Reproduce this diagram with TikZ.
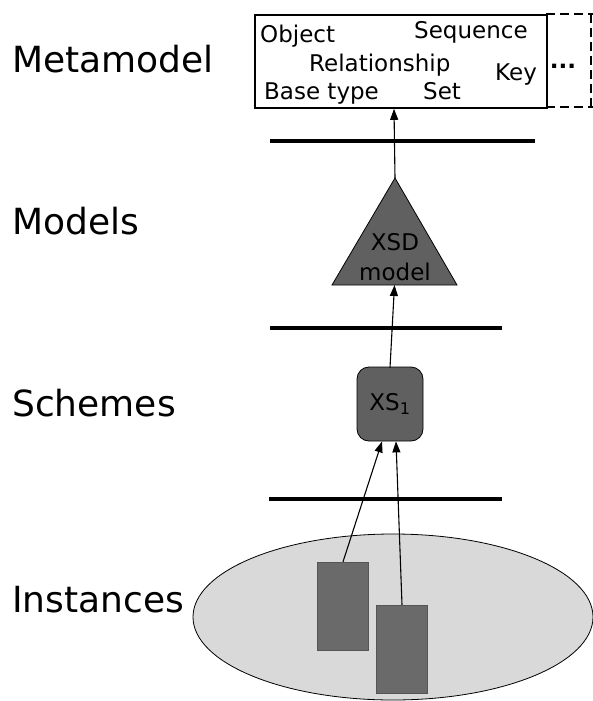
\documentclass[tikz,border=0pt]{standalone}
\usepackage{fontspec}
\setmainfont{DejaVu Sans}
\usetikzlibrary{arrows.meta, positioning, calc, shapes.geometric}
\definecolor{dark}  {HTML}{606060}
\definecolor{light} {HTML}{D9D9D9}
\definecolor{inst}  {HTML}{6A6A6A}

\tikzset{
  layer/.style={anchor=base west, inner sep=0pt, font=\fontsize{36}{40}\selectfont},
  term/.style={anchor=base west, inner sep=0pt, font=\fontsize{23}{26}\selectfont},
  sep/.style={line width=4pt},
  link/.style={-{Triangle[length=11pt,width=8pt]}, line width=1.1pt},
}

\begin{document}
\begin{tikzpicture}[x=1pt, y=-1pt]
  \useasboundingbox (0,0) rectangle (593,701);

  % layer names
  \node[layer] (lmeta) at (12,72)  {Metamodel};
  \node[layer] (lmod)  at (12,234) {Models};
  \node[layer] (lsch)  at (12,416) {Schemes};
  \node[layer] (linst) at (12,612) {Instances};

  % separators
  \draw[sep] (270,141) -- (535,141);
  \draw[sep] (270,328) -- (502,328);
  \draw[sep] (269,499) -- (502,499);

  % metamodel box
  \draw[dash pattern=on 9pt off 5pt, line width=1.8pt] (546,14) -- (593,14) (546,107) -- (593,107) (591,14) -- (591,107);
  \node[draw, line width=1.8pt, fill=white, minimum width=292pt, minimum height=93pt, anchor=north west, inner sep=0pt] (meta) at (254,14) {};
  \node[term] (obj) at (260,43) {Object};
  \node[term] (seq) at (414,39) {Sequence};
  \node[term] (rel) at (309,71) {Relationship};
  \node[term] (key) at (495,81) {Key};
  \node[term] (bas) at (264,99) {Base type};
  \node[term] (set) at (423,99) {Set};
  \node[font=\fontsize{23}{26}\selectfont\bfseries, inner sep=0pt] (more) at (563,66) {...};

  % model triangle
  \coordinate (apex) at (395,178);
  \coordinate (bl) at (332,285);
  \coordinate (br) at (457,285);
  \draw[fill=dark, line width=0.8pt] (apex) -- (br) -- (bl) -- cycle;
  \node[align=center, inner sep=0pt, font=\fontsize{23}{30}\selectfont] (xsd) at (395,257) {XSD\\model};

  % scheme
  \node[draw, fill=dark, rounded corners=12pt, line width=0.8pt, minimum width=66pt, minimum height=74pt, inner sep=0pt, font=\fontsize{23}{26}\selectfont] (xs) at (390,404) {XS\textsubscript{1}};

  % instances
  \node[draw, ellipse, fill=light, line width=0.8pt, minimum width=400pt, minimum height=166pt, inner sep=0pt] (cloud) at (393,617) {};
  \node[fill=inst, draw=inst!80!black, minimum width=51pt, minimum height=88pt, inner sep=0pt] (r1) at (342.5,606) {};
  \node[fill=inst, draw=inst!80!black, minimum width=51pt, minimum height=88pt, inner sep=0pt] (r2) at (401.5,649) {};

  % connectors
  \draw[link] (apex) -- ($(meta.south west)+(140,0)$);
  \draw[link] ($(xs.north)+(0,1)$) -- ($(bl)!0.5!(br)$);
  \draw[link] ($(r1.north)+(0.5,0)$) -- ($(xs.south)+(-8,0)$);
  \draw[link] ($(r2.north)+(0.5,0)$) -- ($(xs.south)+(6,0)$);
\end{tikzpicture}
\end{document}
